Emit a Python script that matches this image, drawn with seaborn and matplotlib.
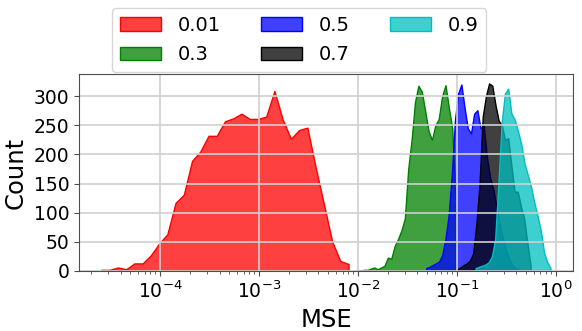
import numpy as np
import matplotlib
matplotlib.use("Agg")
import matplotlib.pyplot as plt
from matplotlib.ticker import MultipleLocator
import seaborn as sns

# series labels and colours
labels = ["0.01", "0.3", "0.5", "0.7", "0.9"]
colors = ["r", "g", "b", "k", "c"]

# first / last bin centre of each histogram (log10 of MSE)
first_centre = [-4.594, -2.005, -1.309, -0.996, -0.810]
last_centre = [-2.096, -1.012, -0.373, -0.255, -0.053]

# counts per bin
counts_001 = [2, 2, 6, 3, 13, 13, 27, 47, 63, 117, 131, 189, 205, 232, 232, 257,
              262, 270, 261, 261, 265, 309, 260, 227, 242, 246, 178, 115, 51, 17, 12]
counts_03 = [1, 1, 2, 2, 4, 6, 3, 6, 9, 23, 21, 43, 55, 70, 90, 175, 225, 290,
             318, 308, 275, 240, 225, 250, 261, 300, 319, 280, 245, 120]
counts_05 = [5, 7, 10, 13, 16, 27, 55, 95, 165, 260, 305, 320, 280, 245, 236, 270,
             276, 245, 250, 195, 160, 140, 110, 80, 55, 35, 20, 10, 5, 2]
counts_07 = [3, 6, 10, 13, 18, 30, 80, 150, 265, 300, 322, 318, 285, 258, 250, 225,
             228, 180, 136, 136, 110, 90, 48, 10]
counts_09 = [5, 7, 9, 11, 15, 25, 55, 150, 255, 305, 313, 270, 260, 240, 218, 185,
             165, 145, 118, 95, 70, 32, 15, 5]
all_counts = [counts_001, counts_03, counts_05, counts_07, counts_09]

fig = plt.figure(figsize=(5.82, 3.31), dpi=100)
ax = fig.add_axes([0.1357, 0.1813, 0.8488, 0.5951])

for lab, col, lo, hi, cnt in zip(labels, colors, first_centre, last_centre, all_counts):
    n = len(cnt)
    centres = np.linspace(lo, hi, n)
    w = (hi - lo) / (n - 1)
    sns.histplot(x=10 ** centres, weights=cnt, bins=n, binrange=(lo - w / 2, hi + w / 2),
                 log_scale=True, element="poly", color=col, alpha=0.75, label=lab, ax=ax)

ax.yaxis.set_major_locator(MultipleLocator(50))
ax.grid(True, which="major", color="#cfcfcf", linewidth=1.2)
for sp in ax.spines.values():
    sp.set_color("0.3")
ax.tick_params(axis="both", which="both", color="0.3")
ax.set_xlabel("MSE", fontsize=17.5)
ax.set_ylabel("Count", fontsize=17.5)
ax.tick_params(axis="both", which="major", labelsize=13.5)
ax.legend(ncol=3, fontsize=14, loc="lower center", bbox_to_anchor=(0.446, 1.01),
          borderaxespad=0, handlelength=2.1, handletextpad=0.85, columnspacing=2.1,
          labelspacing=0.55)

fig.savefig("out.png", dpi=100)
